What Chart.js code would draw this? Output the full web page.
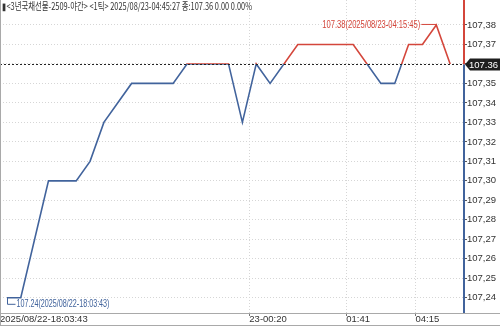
<!DOCTYPE html>
<html>
<head>
<meta charset="utf-8">
<script src="https://cdn.jsdelivr.net/npm/chart.js@4.4.0/dist/chart.umd.min.js"></script>
<style>
  html, body { margin: 0; padding: 0; background: #fff; }
  #wrap { width: 500px; height: 326px; position: relative; }
</style>
</head>
<body>
<div id="wrap"><canvas id="grafik"></canvas></div>
<script>
// tick index (x) and price for each vertex of the line
const tickIdx = [0, 1, 3, 5, 6, 7, 9, 12, 13, 16, 17, 18, 19, 21, 25, 27, 28, 29, 30, 31, 32];
const prices = [107.24, 107.24, 107.30, 107.30, 107.31, 107.33, 107.35, 107.35, 107.36, 107.36,
  107.33, 107.36, 107.35, 107.37, 107.37, 107.35, 107.35, 107.37, 107.37, 107.38, 107.36];

// y axis ticks
const yTicks = [107.24, 107.25, 107.26, 107.27, 107.28, 107.29, 107.30, 107.31,
  107.32, 107.33, 107.34, 107.35, 107.36, 107.37, 107.38];

// x axis labels and their positions (in tick index units)
const xTickPos = [-0.5, 17.5, 24.5, 29.5];
const xTickLabels = ["2025/08/22-18:03:43", "23-00:20", "01:41", "04:15"];

const title = "▮<3년국채선물-2509-야간> <1틱> 2025/08/23-04:45:27 종:107.36 0.00 0.00%";
const lastPrice = 107.36;
const highLabel = "107.38(2025/08/23-04:15:45)";
const lowLabel = "107.24(2025/08/22-18:03:43)";

const RED = "#d4463b";
const BLUE = "#41639c";
const FONT = "'Liberation Sans Narrow', 'Liberation Sans', Arial, sans-serif";

const points = tickIdx.map((x, i) => ({ x: x, y: prices[i] }));

// colour the line red above the last price, blue below
function splitColor(context) {
  const chart = context.chart;
  const area = chart.chartArea;
  if (!area) return BLUE;
  const py = chart.scales.y.getPixelForValue(lastPrice);
  const g = chart.ctx.createLinearGradient(0, area.top, 0, area.bottom);
  const t = Math.min(1, Math.max(0, (py - area.top) / (area.bottom - area.top)));
  g.addColorStop(0, RED);
  g.addColorStop(t, RED);
  g.addColorStop(t, BLUE);
  g.addColorStop(1, BLUE);
  return g;
}

const extras = {
  id: "extras",
  beforeDraw(chart) {
    const c = chart.ctx;
    c.save();
    c.fillStyle = "#fff";
    c.fillRect(0, 0, chart.width, chart.height);
    c.restore();
  },
  afterDatasetsDraw(chart) {
    const c = chart.ctx;
    const a = chart.chartArea;
    const x = chart.scales.x, y = chart.scales.y;
    const py = Math.round(y.getPixelForValue(lastPrice)) + 0.5;
    c.save();

    // last price dashed line
    c.strokeStyle = "#222";
    c.lineWidth = 1;
    c.setLineDash([2, 2]);
    c.beginPath();
    c.moveTo(a.left, py);
    c.lineTo(a.right, py);
    c.stroke();
    c.setLineDash([]);

    // frame lines
    c.strokeStyle = "#a9a9a9";
    c.beginPath();
    c.moveTo(0.5, 0);
    c.lineTo(0.5, chart.height);
    c.moveTo(0, a.bottom + 0.5);
    c.lineTo(chart.width, a.bottom + 0.5);
    c.moveTo(0, chart.height - 0.5);
    c.lineTo(chart.width, chart.height - 0.5);
    c.stroke();

    // right axis line, red above, blue below
    c.lineWidth = 2;
    c.strokeStyle = RED;
    c.beginPath();
    c.moveTo(a.right, 0);
    c.lineTo(a.right, py);
    c.stroke();
    c.strokeStyle = BLUE;
    c.beginPath();
    c.moveTo(a.right, py);
    c.lineTo(a.right, a.bottom);
    c.stroke();

    // title
    c.fillStyle = "#333";
    c.font = "10px 'Noto Sans CJK KR', " + FONT;
    c.textBaseline = "middle";
    c.textAlign = "left";
    c.fillText(title, 2, 6, 250);

    // high annotation
    const hx = x.getPixelForValue(31), hy = y.getPixelForValue(107.38);
    c.strokeStyle = RED;
    c.lineWidth = 1;
    c.beginPath();
    c.moveTo(hx - 15, hy - 0.5);
    c.lineTo(hx, hy - 0.5);
    c.stroke();
    c.fillStyle = RED;
    c.font = "10px " + FONT;
    c.textAlign = "right";
    c.fillText(highLabel, hx - 16, hy, 98);

    // low annotation
    const lx = Math.round(x.getPixelForValue(0)) + 0.5, ly = y.getPixelForValue(107.24);
    c.strokeStyle = BLUE;
    c.beginPath();
    c.moveTo(lx, ly);
    c.lineTo(lx, ly + 6.5);
    c.lineTo(lx + 8, ly + 6.5);
    c.stroke();
    c.fillStyle = BLUE;
    c.textAlign = "left";
    c.fillText(lowLabel, lx + 9, ly + 6.5, 93);

    // last price box
    c.fillStyle = "#1e1e1e";
    c.beginPath();
    c.moveTo(a.right + 1, py);
    c.lineTo(a.right + 6, py - 6);
    c.lineTo(chart.width, py - 6);
    c.lineTo(chart.width, py + 6);
    c.lineTo(a.right + 6, py + 6);
    c.closePath();
    c.fill();
    c.fillStyle = "#fff";
    c.font = "9.5px " + FONT;
    c.textAlign = "right";
    c.fillText("107.36", chart.width - 2, py + 0.5);

    c.restore();
  }
};

const crt = new Chart(document.getElementById("grafik"), {
  type: "line",
  data: {
    datasets: [
      {
        data: points,
        borderColor: splitColor,
        borderWidth: 1.6,
        tension: 0,
        pointRadius: 0,
        fill: false,
      },
    ],
  },
  options: {
    responsive: true,
    maintainAspectRatio: false,
    animation: false,
    layout: { padding: 0 },
    scales: {
      x: {
        type: "linear",
        min: -0.5,
        max: 33,
        afterBuildTicks: (s) => { s.ticks = xTickPos.map(v => ({ value: v })); },
        afterFit: (s) => { s.height = 13; s.paddingLeft = 0; s.paddingRight = 0; },
        ticks: {
          autoSkip: false,
          maxRotation: 0,
          align: "start",
          padding: -2,
          color: "#333",
          font: { family: FONT, size: 9.5 },
          callback: (v, i) => xTickLabels[i],
        },
        grid: {
          color: (ctx) => ctx.index === 0 ? "rgba(0,0,0,0)" : "#d6d6d6",
          tickColor: "#777",
          tickLength: 3,
          tickBorderDash: [],
        },
        border: { display: false, dash: [1, 2] },
      },
      y: {
        position: "right",
        min: 107.2322,
        max: 107.3928,
        afterBuildTicks: (s) => { s.ticks = yTicks.map(v => ({ value: v })); },
        afterFit: (s) => { s.width = 36; s.paddingTop = 0; s.paddingBottom = 0; },
        ticks: {
          padding: 0,
          color: "#333",
          font: { family: FONT, size: 9.5 },
          callback: (v) => v.toFixed(2).replace(".", ","),
        },
        grid: {
          color: "#d6d6d6",
          tickColor: "#555",
          tickLength: 3,
          tickBorderDash: [],
        },
        border: { display: false, dash: [1, 2] },
      },
    },
    plugins: {
      legend: { display: false },
      tooltip: { enabled: false },
    },
  },
  plugins: [extras],
});
</script>
</body>
</html>
